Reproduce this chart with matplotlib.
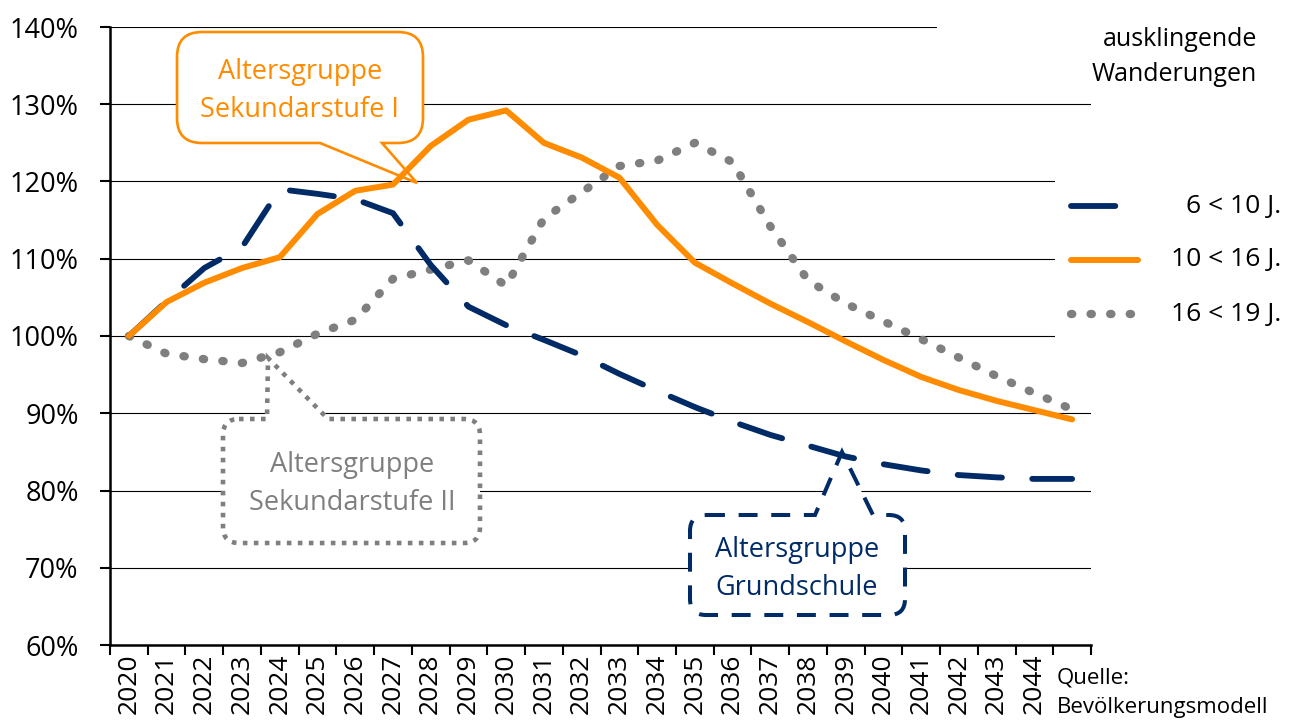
import numpy as np
import matplotlib
matplotlib.use("Agg")
import matplotlib.pyplot as plt
from matplotlib.path import Path
from matplotlib.patches import PathPatch, Rectangle
from matplotlib.lines import Line2D

plt.rcParams['font.family'] = ['Open Sans', 'DejaVu Sans']

# --- data -------------------------------------------------------------
years = list(range(2020, 2046))
year_labels = [str(y) for y in years[:-1]] + ['']

grundschule = [100, 104.5, 108.8, 111.5, 119.0, 118.4, 117.7, 115.9, 109.2, 103.8,
               101.4, 99.5, 97.5, 95.1, 92.9, 90.8, 88.9, 87.2, 85.8, 84.4,
               83.4, 82.6, 82.0, 81.7, 81.5, 81.5]
sek1 = [100, 104.4, 106.9, 108.8, 110.2, 115.8, 118.8, 119.6, 124.6, 128.0,
        129.2, 125.0, 123.1, 120.5, 114.4, 109.5, 106.8, 104.2, 101.8, 99.3,
        96.9, 94.7, 93.0, 91.6, 90.4, 89.2]
sek2 = [100, 97.7, 97.0, 96.5, 97.9, 100.3, 102.1, 107.4, 108.6, 109.8,
        106.5, 115.2, 118.6, 122.0, 122.7, 125.0, 122.5, 114.2, 107.2, 104.2,
        101.9, 99.6, 97.2, 94.8, 92.6, 90.5]

series_labels = ['6 < 10 J.', '10 < 16 J.', '16 < 19 J.']

NAVY = '#002b66'
ORANGE = '#ff8c00'
GRAY = '#7f7f7f'

# line styles, reused for the hand-made legend
STYLE_GRUND = dict(color=NAVY, lw=4.2, ls=(0, (7.6, 5.2)), dash_capstyle='round')
STYLE_SEK1 = dict(color=ORANGE, lw=4.3, solid_capstyle='round')
STYLE_SEK2 = dict(color=GRAY, lw=6.0, ls=(0, (0.15, 2.2)), dash_capstyle='round')

W, H = 1290, 727
AX_L, AX_R, AX_T, AX_B = 110, 1091, 27, 645
YMIN, YMAX = 60, 140


def fig_xy(px, py):
    """Pixel position (from top-left) -> figure fraction."""
    return px / W, 1 - py / H


def to_data(px, py):
    """Pixel position -> data coordinates of the axes."""
    xd = (px - AX_L) / (AX_R - AX_L) * len(years) - 0.5
    yd = YMAX - (py - AX_T) / (AX_B - AX_T) * (YMAX - YMIN)
    return xd, yd


def callout(ax, box, pointer, side, radius, **kw):
    """Rounded box with a triangular pointer, given in pixels."""
    left, top, right, bottom = box
    (l, t), (r, b) = to_data(left, top), to_data(right, bottom)
    rx = radius / (AX_R - AX_L) * len(years)
    ry = radius / (AX_B - AX_T) * (YMAX - YMIN)
    base_a = to_data(pointer[0], 0)[0]
    base_b = to_data(pointer[1], 0)[0]
    tip = to_data(*pointer[2])
    M, L, C, Z = Path.MOVETO, Path.LINETO, Path.CURVE3, Path.CLOSEPOLY
    v, c = [(l + rx, t)], [M]
    if side == 'top':
        v += [(base_a, t), tip, (base_b, t)]
        c += [L] * 3
    v += [(r - rx, t), (r, t), (r, t - ry), (r, b + ry), (r, b), (r - rx, b)]
    c += [L, C, C, L, C, C]
    if side == 'bottom':
        v += [(base_b, b), tip, (base_a, b)]
        c += [L] * 3
    v += [(l + rx, b), (l, b), (l, b + ry), (l, t - ry), (l, t), (l + rx, t), (l + rx, t)]
    c += [L, C, C, L, C, C, Z]
    patch = PathPatch(Path(v, c), facecolor='white', zorder=2, **kw)
    ax.add_patch(patch)


fig = plt.figure(figsize=(W / 100, H / 100), dpi=100)
x0, y0 = fig_xy(AX_L, AX_B)
x1, y1 = fig_xy(AX_R, AX_T)
ax = fig.add_axes([x0, y0, x1 - x0, y1 - y0])

x = np.arange(len(years))
ax.plot(x, grundschule, zorder=4, **STYLE_GRUND)
ax.plot(x, sek2, zorder=3, **STYLE_SEK2)
ax.plot(x, sek1, zorder=5, **STYLE_SEK1)

ax.set_xlim(-0.5, len(years) - 0.5)
ax.set_ylim(YMIN, YMAX)

ax.set_yticks(range(YMIN, YMAX + 1, 10))
ax.set_yticklabels([f'{v}%' for v in range(YMIN, YMAX + 1, 10)])
ax.set_xticks(x)
ax.set_xticklabels(year_labels, rotation=90)
ax.set_xticks(np.arange(-0.5, len(years)), minor=True)
ax.tick_params(axis='x', which='major', length=0, pad=6, labelsize=19)
ax.tick_params(axis='x', which='minor', length=7.5, width=1.5, direction='out')
ax.tick_params(axis='y', length=7.5, width=1.5, pad=15, labelsize=19.5)

ax.yaxis.grid(True, color='black', lw=0.8)
ax.set_axisbelow(True)
for s in ['top', 'right']:
    ax.spines[s].set_visible(False)
for s in ['left', 'bottom']:
    ax.spines[s].set_linewidth(1.8)

# white areas behind title and legend
for (pl, pt, pr, pb) in [(937, 8, 1095, 60), (1055, 150, 1095, 350)]:
    fx, fy = fig_xy(pl, pb)
    fx2, fy2 = fig_xy(pr, pt)
    ax.add_patch(Rectangle((fx, fy), fx2 - fx, fy2 - fy, transform=fig.transFigure,
                           facecolor='white', edgecolor='none', zorder=1, clip_on=False))

# callouts
callout(ax, (177, 32, 423, 143), (320, 382, (417, 183)), 'bottom', 25,
        edgecolor=ORANGE, lw=1.9)
ax.text(*to_data(300, 91), 'Altersgruppe\nSekundarstufe I', color=ORANGE,
        fontsize=19.5, ha='center', va='center', linespacing=1.45, zorder=6)

callout(ax, (223, 419, 480, 543), (267, 328, (268, 358)), 'top', 16,
        edgecolor=GRAY, lw=3.3, ls=(0, (1, 1.4)))
ax.text(*to_data(352, 484), 'Altersgruppe\nSekundarstufe II', color=GRAY,
        fontsize=19.5, ha='center', va='center', linespacing=1.45, zorder=6)

callout(ax, (690, 515, 905, 615), (815, 873, (842, 452)), 'top', 16,
        edgecolor=NAVY, lw=2.9, ls=(0, (4.7, 3.4)))
ax.text(*to_data(797, 569), 'Altersgruppe\nGrundschule', color=NAVY,
        fontsize=19.5, ha='center', va='center', linespacing=1.45, zorder=6)

# title and legend
fig.text(*fig_xy(1257, 57), 'ausklingende\nWanderungen', ha='right', va='center',
         fontsize=18, linespacing=1.55)
legend_rows = [(STYLE_GRUND, 206), (STYLE_SEK1, 260), (STYLE_SEK2, 314)]
for (style, py), label in zip(legend_rows, series_labels):
    xa, ya = fig_xy(1071, py)
    xb, _ = fig_xy(1138, py)
    fig.add_artist(Line2D([xa, xb], [ya, ya], transform=fig.transFigure, **style))
    fig.text(*fig_xy(1281, py), label, ha='right', va='center', fontsize=19)

fig.text(*fig_xy(1057, 678), 'Quelle:', ha='left', va='center', fontsize=16)
fig.text(*fig_xy(1057, 708), 'Bevölkerungsmodell', ha='left', va='center', fontsize=16)

fig.savefig('out.png', dpi=100)
